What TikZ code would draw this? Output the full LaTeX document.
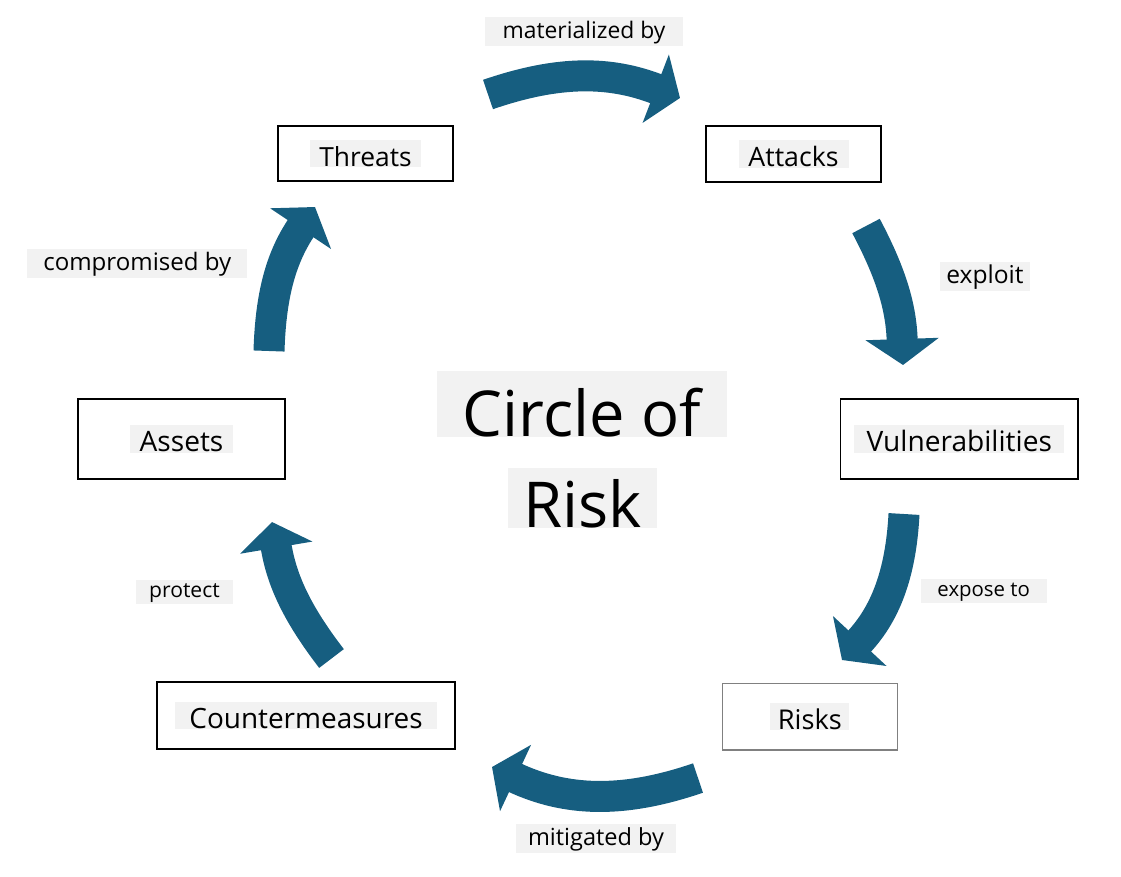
\documentclass[tikz,border=0pt]{standalone}
\usepackage{fontspec}
\setmainfont{Open Sans}
\usetikzlibrary{arrows.meta}
\definecolor{riskblue}{RGB}{22,94,128}
\definecolor{tagfill}{RGB}{242,242,242}
\tikzset{
  riskbox/.style={draw, line width=0.75pt, inner sep=0pt},
  boxlabel/.style={fill=tagfill, inner sep=0pt, font=\fontsize{#1}{18}\selectfont, text height=15pt, text depth=0.5pt},
  boxlabel/.default=15.5,
  steplabel/.style={fill=tagfill, inner sep=0pt, font=\fontsize{#1}{15}\selectfont, text height=12.5pt, text depth=4pt},
  steplabel/.default=13.3,
  steplabelsmall/.style={steplabel=#1, text height=9.9pt, text depth=3.7pt},
  centertitle/.style={fill=tagfill, inner sep=0pt, font=\fontsize{36}{40}\selectfont, text depth=0pt},
  cyclearrow/.style={riskblue, line width=0.62cm, -{Triangle[width=1.44cm,length=0.52cm]}}
}
\begin{document}
\begin{tikzpicture}[x=0.02cm,y=-0.02cm]
\useasboundingbox (0,0) rectangle (1121,876);

% boxes
\node[riskbox, minimum width=3.5cm, minimum height=1.1cm] (threats) at (365.5,153.5) {};
\node[riskbox, minimum width=3.5cm, minimum height=1.12cm] (attacks) at (793.5,154) {};
\node[riskbox, minimum width=4.75cm, minimum height=1.6cm] (vulns) at (959.3,439) {};
\node[riskbox, draw=black!50, minimum width=3.5cm, minimum height=1.33cm] (risks) at (809.8,716.7) {};
\node[riskbox, minimum width=5.96cm, minimum height=1.34cm] (counter) at (306,715.5) {};
\node[riskbox, minimum width=4.14cm, minimum height=1.6cm] (assets) at (181.5,439) {};

\node[boxlabel=15, minimum width=2.24cm] (threats-txt) at (threats) {Threats};
\node[boxlabel=15.2, minimum width=2.2cm] (attacks-txt) at (attacks) {Attacks};
\node[boxlabel=16, minimum width=4.2cm] (vulns-txt) at (vulns) {Vulnerabilities};
\node[boxlabel, minimum width=1.58cm] (risks-txt) at (risks) {Risks};
\node[boxlabel=15.9, minimum width=5.24cm] (counter-txt) at (counter) {Countermeasures};
\node[boxlabel=16, minimum width=2.08cm] (assets-txt) at (assets) {Assets};

% centre
\node[centertitle, minimum width=5.8cm, text height=37.4pt] (circle) at (582,404) {Circle of};
\node[centertitle, minimum width=2.98cm, text height=34pt] (risk) at (582.5,498) {Risk};

% arrows
\coordinate (a1) at (488,94.5);   \coordinate (b1) at (680,98);
\coordinate (a2) at (866,226);    \coordinate (b2) at (903,365);
\coordinate (a3) at (904,514);    \coordinate (b3) at (842,660);
\coordinate (a4) at (698,778);    \coordinate (b4) at (492,767);
\coordinate (a5) at (331.5,658.5); \coordinate (b5) at (272,522);
\coordinate (a6) at (269,351);    \coordinate (b6) at (315,207);

\draw[cyclearrow] (a1) to[bend left=20] (b1);
\draw[cyclearrow] (a2) to[bend left=13] (b2);
\draw[cyclearrow] (a3) to[bend left=20] (b3);
\draw[cyclearrow] (a4) to[bend left=22] (b4);
\draw[cyclearrow] (a5) to[bend left=14] (b5);
\draw[cyclearrow] (a6) to[bend left=16] (b6);

\node[steplabel=13, minimum width=3.96cm] (l1) at (584,31.5) {materialized by};
\node[steplabel=14, minimum width=1.8cm] (l2) at (985,276) {exploit};
\node[steplabelsmall=11.6, minimum width=2.52cm] (l3) at (983.7,591.3) {expose to};
\node[steplabel=13.4, minimum width=3.2cm] (l4) at (596,838) {mitigated by};
\node[steplabelsmall=12, minimum width=1.94cm] (l5) at (184.5,592) {protect};
\node[steplabel=13.7, minimum width=4.4cm] (l6) at (137.3,263.3) {compromised by};
\end{tikzpicture}
\end{document}
